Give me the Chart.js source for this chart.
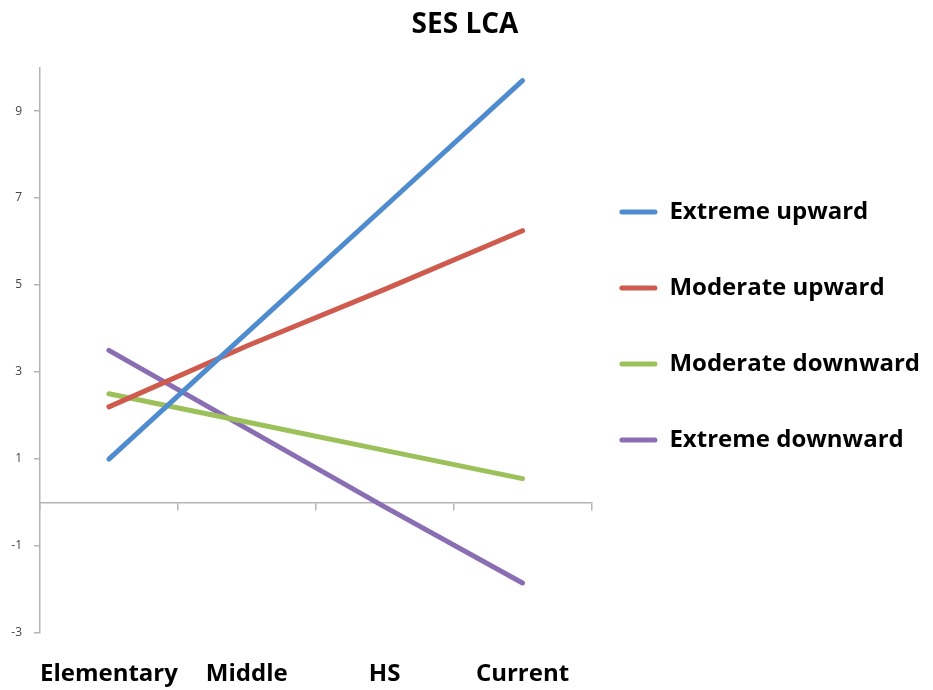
<!DOCTYPE html>
<html><head><meta charset="utf-8">
<script src="https://cdn.jsdelivr.net/npm/chart.js@4"></script>
<style>html,body{margin:0;padding:0;background:#fff;} #wrap{width:933px;height:690px;position:relative;}</style>
</head><body><div id="wrap"><canvas id="c" width="933" height="690"></canvas></div>
<script>
const CATEGORIES = ['Elementary', 'Middle', 'HS', 'Current'];
const SERIES_NAMES = ['Extreme upward', 'Moderate upward', 'Moderate downward', 'Extreme downward'];
const EXTREME_UPWARD = [1.0, 3.9, 6.8, 9.7];
const MODERATE_UPWARD = [2.2, 3.6, 4.9, 6.25];
const MODERATE_DOWNWARD = [2.5, 1.85, 1.2, 0.55];
const EXTREME_DOWNWARD = [3.5, 1.7, -0.1, -1.85];
const Y_TICKS = [-3, -1, 1, 3, 5, 7, 9];
const Y_MIN = -3, Y_MAX = 10;

const COLORS = ['#4F8BCF', '#CF5A4E', '#9DC15A', '#8A6EB4'];
const FONT = 'Open Sans';
const AXIS = '#B4B4B4';

const seriesValues = [EXTREME_UPWARD, MODERATE_UPWARD, MODERATE_DOWNWARD, EXTREME_DOWNWARD];
const datasets = SERIES_NAMES.map((name, i) => ({
  label: name,
  data: seriesValues[i],
  borderColor: COLORS[i],
  backgroundColor: COLORS[i],
  borderWidth: 5,
  borderCapStyle: 'round',
  borderJoinStyle: 'round',
  pointRadius: 0,
  pointHoverRadius: 0,
  tension: 0,
  fill: false,
  xAxisID: 'x',
  yAxisID: 'y'
}));

new Chart(document.getElementById('c'), {
  type: 'line',
  data: { labels: CATEGORIES, datasets },
  options: {
    responsive: false,
    animation: false,
    devicePixelRatio: 1,
    layout: { padding: { left: 0, right: 3, top: 0, bottom: 14 } },
    plugins: {
      title: {
        display: true, text: 'SES LCA', color: '#000',
        font: { family: FONT, size: 28, weight: 'bold', lineHeight: 1.2 },
        padding: { top: 8, bottom: 26 }
      },
      legend: {
        position: 'right',
        align: 'center',
        maxWidth: 420,
        labels: {
          color: '#000',
          font: { family: FONT, size: 24, weight: 'bold', lineHeight: 2 },
          padding: 28,
          boxWidth: 38,
          boxHeight: 5,
          useBorderRadius: true,
          borderRadius: 2.5,
          generateLabels(chart) {
            const items = Chart.defaults.plugins.legend.labels.generateLabels(chart);
            items.forEach(it => { it.text = [it.text]; it.fillStyle = it.strokeStyle; it.lineWidth = 0; });
            return items;
          }
        }
      },
      tooltip: { enabled: false }
    },
    scales: {
      x: {
        type: 'category',
        position: { y: 0 },
        offset: true,
        grid: { offset: true, drawOnChartArea: false, drawTicks: true, tickLength: 7, color: AXIS, lineWidth: 1.5 },
        border: { display: true, color: AXIS, width: 1.5 },
        ticks: { display: false },
        afterFit(scale) { scale.paddingLeft = 0; scale.paddingRight = 0; }
      },
      x2: {
        type: 'category',
        position: 'bottom',
        offset: true,
        grid: { display: false, drawTicks: false },
        border: { display: false },
        ticks: { color: '#000', font: { family: FONT, size: 24, weight: 'bold', lineHeight: 1.2 }, padding: -56, mirror: true, maxRotation: 0, autoSkip: false },
        afterFit(scale) { scale.height = 43; scale.paddingLeft = 0; scale.paddingRight = 0; }
      },
      y: {
        type: 'linear',
        min: Y_MIN, max: Y_MAX,
        afterBuildTicks(scale) { scale.ticks = Y_TICKS.map(v => ({ value: v })); },
        afterFit(scale) { scale.width = 40; },
        grid: { drawOnChartArea: false, drawTicks: true, tickLength: 6, color: AXIS, lineWidth: 1.5 },
        border: { display: true, color: AXIS, width: 1.5 },
        ticks: { color: '#444', font: { family: FONT, size: 12 }, padding: 12 }
      }
    }
  }
});
</script>
</body></html>
